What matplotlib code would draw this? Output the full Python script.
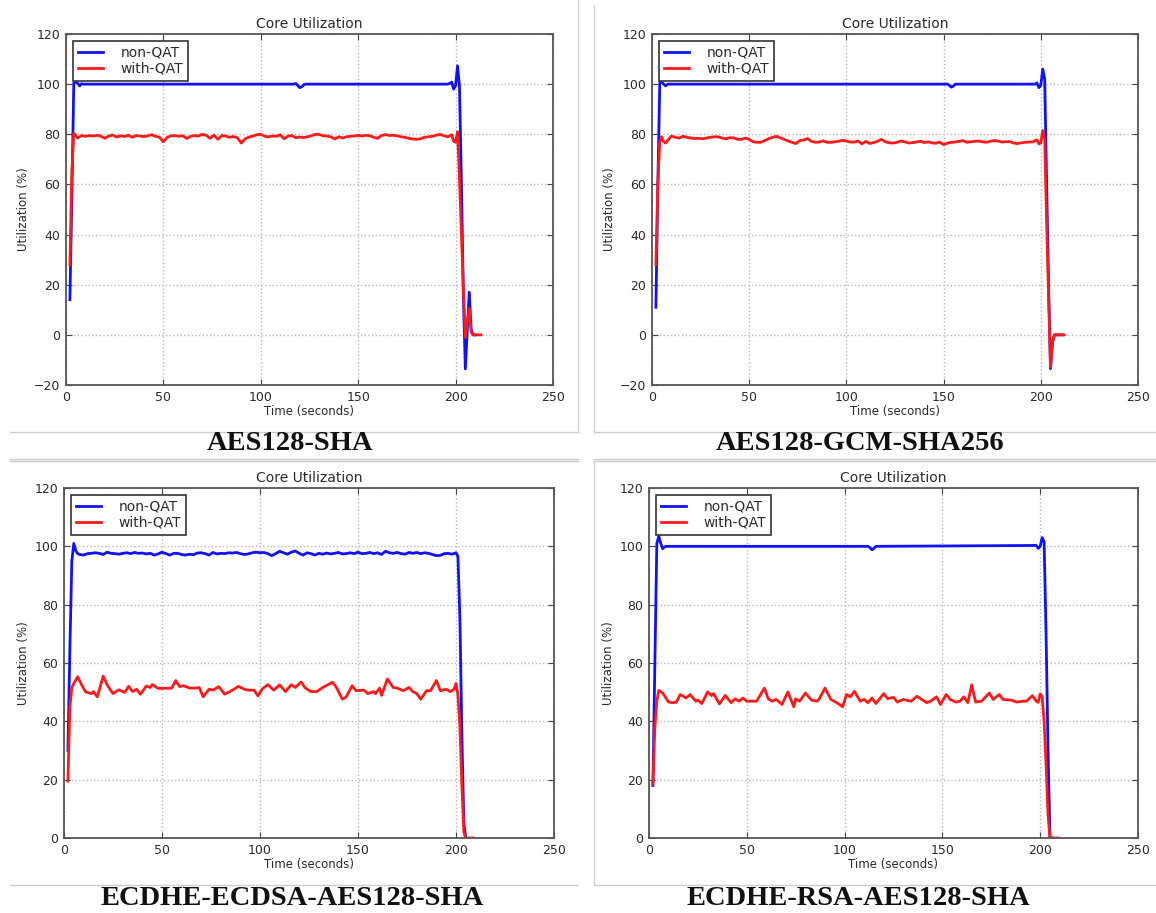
import matplotlib
matplotlib.use("Agg")
import matplotlib.pyplot as plt
from matplotlib.lines import Line2D

# ---------------- data ----------------
captions = ["AES128-SHA", "AES128-GCM-SHA256", "ECDHE-ECDSA-AES128-SHA", "ECDHE-RSA-AES128-SHA"]
series_labels = ["non-QAT", "with-QAT"]

# Panel 1: AES128-SHA
p1_blue_t = [2, 3, 4, 5, 6, 7, 8, 9, 117, 118, 119, 120, 121, 122, 123, 196, 197, 198, 199, 200, 201, 202, 203, 204, 205, 206, 207, 208, 209, 210]
p1_blue_v = [14, 55, 100.5, 101, 100.3, 99.3, 100.2, 100, 100, 100.3, 99.4, 98.6, 98.9, 99.7, 100, 100, 100.3, 100.8, 98.0, 99.5, 107.3, 99, 60, 15, -13.6, 2, 17, 2, 0, 0]
p1_red_t = [2, 3, 4, 5, 6, 8, 10, 12, 14, 16, 18, 20, 22, 24, 26, 28, 30, 32, 34, 36, 38, 40, 42, 44, 46, 48, 50, 52, 54, 56, 58,
            60, 62, 64, 66, 68, 70, 72, 74, 76, 78, 80, 82, 84, 86, 88, 90, 92, 94, 96, 98, 100, 102, 104, 106, 108, 110,
            112, 114, 116, 118, 120, 122, 124, 126, 128, 130, 132, 134, 136, 138, 140, 142, 144, 146, 148, 150, 152, 154,
            156, 158, 160, 162, 164, 166, 168, 170, 172, 174, 176, 178, 180, 182, 184, 186, 188, 190, 192, 194, 196, 198,
            199, 200, 201, 202, 203, 204, 205, 206, 207, 208, 209, 213]
p1_red_v = [28, 65, 80.5, 79.5, 78.5, 79.5, 79.2, 79.5, 79.3, 79.6, 79.2, 78.4, 79.3, 79.7, 78.9, 79.4, 79.1, 79.6, 78.8, 79.5, 79.3,
            79.1, 79.4, 79.8, 79.2, 78.8, 77.0, 78.8, 79.4, 79.5, 79.2, 79.4, 78.3, 79.2, 79.5, 79.3, 80.0, 79.6, 78.4, 79.7,
            78.0, 79.5, 79.3, 78.8, 79.1, 78.6, 76.5, 78.2, 78.9, 79.3, 79.8, 80.0, 79.2, 79.0, 79.3, 79.2, 79.8, 78.2, 79.3,
            79.5, 78.6, 78.9, 78.7, 79.0, 79.4, 80.0, 79.9, 79.4, 79.3, 79.0, 78.1, 79.0, 78.5, 79.0, 79.2, 79.3, 79.6, 79.3,
            79.6, 79.4, 78.8, 78.4, 79.5, 79.9, 79.5, 79.6, 79.4, 79.0, 78.8, 78.4, 78.1, 78.0, 78.2, 78.8, 79.0, 79.2, 79.6,
            80.0, 79.4, 79.0, 79.8, 77.2, 76.8, 81.0, 62, 40, 18, -1, 5, 10.5, 1, 0, 0]

# Panel 2: AES128-GCM-SHA256
p2_blue_t = [2, 3, 4, 5, 6, 7, 8, 152, 153, 154, 155, 156, 197, 198, 199, 200, 201, 202, 203, 204, 205, 206, 207, 211]
p2_blue_v = [11, 60, 100.5, 100.8, 100, 99.3, 100, 100, 99.5, 98.8, 99.2, 100, 100, 100.5, 98.6, 99.5, 106, 102, 60, 20, -13.5, -3, 0, 0]
p2_red_t = [2, 3, 4, 5, 6, 7, 8, 10, 12, 14, 16, 18, 20, 22, 24, 26, 28, 30, 32, 34, 36, 38, 40, 42, 44, 46, 48, 50, 52, 54, 56,
            58, 60, 62, 64, 66, 68, 70, 72, 74, 76, 78, 80, 82, 84, 86, 88, 90, 92, 94, 96, 98, 100, 102, 104, 106, 108, 110,
            112, 114, 116, 118, 120, 122, 124, 126, 128, 130, 132, 134, 136, 138, 140, 142, 144, 146, 148, 150, 152, 154,
            156, 158, 160, 162, 164, 166, 168, 170, 172, 174, 176, 178, 180, 182, 184, 186, 188, 190, 192, 194, 196, 198,
            199, 200, 201, 202, 203, 204, 205, 206, 207, 212]
p2_red_v = [28, 60, 77, 79, 77, 76.5, 77.5, 79.3, 78.8, 78.5, 79.2, 78.8, 78.5, 78.3, 78.4, 78.2, 78.5, 78.8, 79.0, 79.0, 78.5,
            78.2, 78.6, 78.6, 78.0, 78.0, 78.5, 78.0, 77.0, 76.8, 76.8, 77.5, 78.2, 78.8, 79.2, 78.6, 78.0, 77.3, 76.8, 76.3,
            77.5, 77.7, 78.3, 77.2, 76.8, 76.9, 77.4, 76.8, 76.8, 77.0, 77.2, 77.6, 77.3, 76.9, 76.9, 77.3, 76.2, 77.2, 76.3,
            76.7, 77.2, 78.0, 77.0, 76.6, 76.5, 76.8, 77.3, 77.0, 76.5, 76.7, 76.9, 77.2, 76.7, 77.0, 76.6, 76.4, 76.9, 75.9,
            76.5, 76.8, 76.9, 77.2, 77.5, 76.8, 77.0, 77.2, 77.3, 77.0, 76.8, 77.2, 77.5, 77.3, 76.9, 77.0, 77.1, 76.5, 76.3,
            76.6, 76.8, 76.9, 77.0, 77.8, 76.2, 76.5, 81.5, 78, 45, 15, -13, -3, 0, 0]

# Panel 3: ECDHE-ECDSA-AES128-SHA
p3_blue_t = [2, 3, 4, 5, 6, 7, 8, 10, 12, 14, 16, 18, 20, 22, 24, 26, 28, 30, 32, 34, 36, 38, 40, 42, 44, 46, 48, 50, 52, 54,
             56, 58, 60, 62, 64, 66, 68, 70, 72, 74, 76, 78, 80, 82, 84, 86, 88, 90, 92, 94, 96, 98, 100, 102, 104, 106, 108,
             110, 112, 114, 116, 118, 120, 122, 124, 126, 128, 130, 132, 134, 136, 138, 140, 142, 144, 146, 148, 150, 152,
             154, 156, 158, 160, 162, 164, 166, 168, 170, 172, 174, 176, 178, 180, 182, 184, 186, 188, 190, 192, 194, 196,
             198, 200, 201, 202, 203, 204, 205]
p3_blue_v = [30, 65, 95, 101, 98.5, 97.5, 97.2, 97.0, 97.5, 97.6, 97.8, 97.6, 97.2, 98.0, 97.6, 97.5, 97.3, 97.6, 97.8, 97.5,
             97.9, 97.6, 97.7, 97.4, 97.6, 97.0, 97.4, 98.0, 97.5, 97.0, 97.6, 97.6, 97.2, 97.0, 97.3, 97.1, 97.7, 97.8, 97.5,
             97.0, 97.9, 97.4, 97.6, 97.5, 97.8, 97.7, 97.9, 97.5, 97.2, 97.4, 97.8, 98.0, 97.8, 97.9, 97.5, 96.8, 97.5, 98.3,
             97.8, 97.3, 98.0, 98.4, 97.6, 97.0, 97.8, 97.5, 97.0, 97.6, 97.3, 97.7, 97.4, 97.6, 97.9, 97.4, 97.5, 97.8, 97.5,
             98.0, 97.5, 97.6, 97.9, 97.5, 97.8, 97.2, 98.3, 97.8, 97.6, 97.9, 97.5, 97.3, 97.9, 97.6, 97.9, 97.5, 97.8, 97.6,
             97.2, 96.8, 96.9, 97.5, 97.6, 97.3, 97.8, 96.5, 75, 35, 5, 0]
p3_red_t = [2, 3, 4, 5, 7, 9, 11, 14, 15, 17, 20, 22, 25, 28, 31, 33, 35, 37, 39, 42, 44, 45, 48, 50, 55, 57, 59, 61, 64, 67,
            69, 71, 74, 76, 79, 82, 86, 89, 92, 94, 97, 99, 101, 104, 107, 110, 113, 116, 118, 121, 123, 126, 129, 132, 137,
            139, 142, 144, 147, 149, 153, 155, 158, 159, 161, 162, 165, 168, 170, 173, 176, 178, 180, 182, 185, 187, 190,
            192, 195, 197, 199, 200, 201, 202, 203, 204, 205, 209]
p3_red_v = [19.5, 45, 51.5, 53, 55.3, 52.5, 50.1, 49.5, 50.2, 48.4, 55.5, 52.5, 49.5, 50.8, 49.9, 52, 50.2, 51, 49.3, 52.1,
            51.6, 52.6, 51.3, 51.3, 51.4, 54, 51.9, 52.2, 51.4, 51.4, 51.6, 48.4, 51, 50.7, 51.9, 49.3, 50.7, 52, 51, 50.7,
            50.7, 48.7, 51, 52.6, 50.7, 52.5, 50.2, 52.6, 51.6, 53.5, 51.5, 50.2, 50.2, 51.6, 53.4, 51.6, 47.6, 48.4, 52.2,
            50.5, 50.7, 49.5, 50.2, 49.5, 51.4, 48.9, 54.5, 51.6, 51.4, 50.5, 51.6, 50.2, 49.5, 47.6, 50.5, 50.5, 54, 50.5,
            51, 50.2, 51, 53, 49, 38, 18, 2, 0, 0]

# Panel 4: ECDHE-RSA-AES128-SHA
p4_blue_t = [2, 3, 4, 5, 6, 7, 8, 9, 112, 113, 114, 115, 116, 198, 199, 200, 201, 202, 203, 204, 205, 206]
p4_blue_v = [18, 60, 101, 103.5, 101, 99.2, 99.8, 100, 100, 99.5, 98.8, 99.3, 100, 100.3, 99.3, 100, 103, 101.5, 70, 30, 0, 0]
p4_red_t = [2, 3, 4, 5, 7, 10, 12, 14, 16, 19, 21, 24, 25, 27, 30, 32, 33, 36, 39, 42, 44, 46, 48, 50, 55, 59, 61, 63, 65,
            68, 71, 74, 75, 77, 80, 83, 86, 87, 90, 93, 96, 99, 101, 103, 105, 108, 110, 112, 114, 116, 120, 122, 125, 127,
            130, 134, 137, 139, 142, 144, 147, 149, 152, 154, 157, 159, 161, 163, 165, 167, 170, 174, 176, 179, 181, 185,
            188, 191, 193, 196, 198, 199, 200, 201, 202, 203, 204, 205, 209]
p4_red_v = [18.5, 38, 47, 50.6, 49.7, 46.6, 46.4, 46.6, 49.2, 48, 49.2, 46.9, 47.3, 46.1, 50.1, 48.8, 49.5, 46, 48.9, 46.4,
            47.7, 46.9, 48, 46.9, 46.9, 51.4, 47.7, 46.9, 47.5, 45.8, 50.1, 45, 47.7, 46.9, 49.7, 47.3, 46.9, 47.7, 51.4,
            47.5, 46.4, 45, 49.2, 48.4, 50.3, 46.9, 47.5, 46.4, 48, 46.1, 49.5, 47.8, 48.2, 46.6, 47.5, 46.9, 48.6, 47.7,
            46.4, 46.9, 48.4, 45.8, 49.2, 47.5, 46.6, 46.9, 48.4, 46.4, 52.5, 46.6, 46.9, 49.7, 47.5, 49.2, 47.5, 47.3, 46.6,
            46.9, 46.9, 48.8, 46.9, 46.5, 49.4, 48.5, 40, 25, 8, 0, 0]

panels = [
    (p1_blue_t, p1_blue_v, p1_red_t, p1_red_v, (-20, 120)),
    (p2_blue_t, p2_blue_v, p2_red_t, p2_red_v, (-20, 120)),
    (p3_blue_t, p3_blue_v, p3_red_t, p3_red_v, (0, 120)),
    (p4_blue_t, p4_blue_v, p4_red_t, p4_red_v, (0, 120)),
]
x_ticks = [0, 50, 100, 150, 200, 250]

# ---------------- layout ----------------
W, H = 1156, 913
fig = plt.figure(figsize=(W / 100, H / 100), dpi=100)
fig.patch.set_facecolor("white")

rects_px = [(66, 34, 553, 385), (652, 34, 1138, 385), (64, 488, 554, 838), (649, 488, 1138, 838)]
caption_pos = [(290, 443), (860, 443), (292, 898), (858, 898)]

text_col = "#2a2a2a"
for (bt, bv, rt, rv, ylim), (l, t, r, b), cap, (cx, cy) in zip(panels, rects_px, captions, caption_pos):
    ax = fig.add_axes([l / W, 1 - b / H, (r - l) / W, (b - t) / H])
    ax.plot(bt, bv, color="#1010ff", lw=2.0, label=series_labels[0])
    ax.plot(rt, rv, color="#ff1a1a", lw=2.0, label=series_labels[1])
    ax.set_xlim(0, 250)
    ax.set_ylim(*ylim)
    ax.set_xticks(x_ticks)
    ax.set_yticks(list(range(ylim[0], 121, 20)))
    ax.grid(True, color="#b8b8b8", linestyle=":", linewidth=1.0)
    ax.tick_params(direction="in", top=True, right=True, length=4, width=0.8,
                   labelsize=9, colors="#444444", labelcolor=text_col, pad=4)
    for s in ax.spines.values():
        s.set_color("#555555")
        s.set_linewidth(1.3)
    ax.set_title("Core Utilization", fontsize=10, color=text_col, pad=4)
    ax.set_xlabel("Time (seconds)", fontsize=8.5, color=text_col, labelpad=1)
    ax.set_ylabel("Utilization (%)", fontsize=8.5, color=text_col, labelpad=3)
    leg = ax.legend(loc="upper left", fontsize=10, fancybox=False, framealpha=1,
                    edgecolor="#333333", handlelength=1.8, borderaxespad=0.5,
                    labelspacing=0.15, handletextpad=1.3, borderpad=0.35)
    leg.get_frame().set_linewidth(1.2)
    for txt in leg.get_texts():
        txt.set_color(text_col)
    fig.text(cx / W, 1 - cy / H, cap, ha="center", va="center", fontsize=20.5,
             fontweight="bold", family="Liberation Serif", color="#111111")

# light gray frame lines around panels
def hline(y, x0, x1):
    fig.add_artist(Line2D([x0 / W, x1 / W], [1 - y / H, 1 - y / H], color="#cccccc", lw=1.0))

def vline(x, y0, y1):
    fig.add_artist(Line2D([x / W, x / W], [1 - y0 / H, 1 - y1 / H], color="#cccccc", lw=1.0))

vline(578, 0, 432)
hline(432, 10, 578)
hline(459, 10, 578)
vline(594, 6, 432)
hline(432, 594, 1156)
hline(459, 594, 1156)
hline(461, 10, 578)
hline(885, 10, 578)
vline(594, 461, 885)
hline(461, 594, 1156)
hline(885, 594, 1156)

fig.savefig("out.png", dpi=100, facecolor="white")
